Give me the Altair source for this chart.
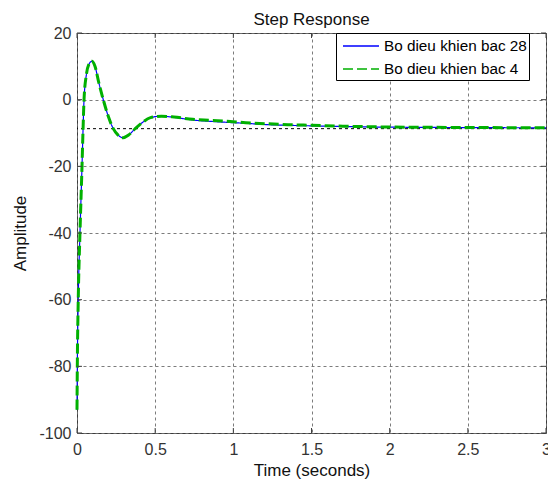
import altair as alt
import pandas as pd

# ---- data ----
series_names = ["Bo dieu khien bac 28", "Bo dieu khien bac 4"]

t_blue = [0.000, 0.002, 0.008, 0.019, 0.032, 0.038, 0.045, 0.060, 0.075, 0.095,
          0.115, 0.140, 0.168, 0.200, 0.232, 0.260, 0.295, 0.330, 0.370, 0.420,
          0.470, 0.540, 0.620, 0.740, 0.850, 0.960, 1.080, 1.200, 1.350, 1.500,
          1.700, 1.900, 2.100, 2.300, 2.500, 2.750, 3.000]
y_blue = [-93.0, -80.0, -60.0, -40.0, -20.0, -10.0, 0.0, 7.5, 10.5, 11.5,
          10.0, 5.0, 0.0, -5.0, -8.7, -10.5, -11.4, -10.6, -8.8, -6.8,
          -5.4, -4.95, -5.3, -6.1, -6.5, -6.8, -7.1, -7.45, -7.7, -7.85,
          -8.05, -8.2, -8.28, -8.33, -8.37, -8.42, -8.45]

t_green = [0.000, 0.002, 0.008, 0.019, 0.032, 0.038, 0.045, 0.060, 0.075, 0.095,
           0.115, 0.140, 0.168, 0.200, 0.232, 0.260, 0.295, 0.330, 0.370, 0.420,
           0.470, 0.540, 0.620, 0.740, 0.850, 0.960, 1.080, 1.200, 1.350, 1.500,
           1.700, 1.900, 2.100, 2.300, 2.500, 2.750, 3.000]
y_green = [-93.0, -80.0, -60.0, -40.0, -20.0, -10.0, 0.0, 7.5, 10.5, 11.5,
           10.0, 5.0, 0.0, -5.0, -8.7, -10.5, -11.4, -10.6, -8.8, -6.8,
           -5.4, -4.95, -5.2, -5.9, -6.2, -6.5, -6.9, -7.2, -7.5, -7.7,
           -7.95, -8.15, -8.25, -8.3, -8.35, -8.4, -8.45]

final_value = [-8.7]
x_ticks = [0, 0.5, 1, 1.5, 2, 2.5, 3]
y_ticks = [-100, -80, -60, -40, -20, 0, 20]

# ---- tables ----
df = pd.concat([
    pd.DataFrame({"t": t_blue, "y": y_blue, "series": series_names[0]}),
    pd.DataFrame({"t": t_green, "y": y_green, "series": series_names[1]}),
])
df_final = pd.DataFrame({"y": final_value})
df_xt = pd.DataFrame({"t": x_ticks})
df_yt = pd.DataFrame({"y": y_ticks})

W, H = 469, 400
FONT = "Liberation Sans"

xscale = alt.Scale(domain=[0, 3], nice=False, zero=False)
yscale = alt.Scale(domain=[-100, 20], nice=False, zero=False)

xaxis = alt.Axis(values=x_ticks, title="Time (seconds)", grid=True, ticks=False,
                 domain=False, labelPadding=8, titlePadding=5, labelFlush=False,
                 labelOverlap=False, labelExpr="'' + datum.value")
yaxis = alt.Axis(values=y_ticks, title="Amplitude", grid=True, ticks=False,
                 domain=False, labelPadding=6, titlePadding=9, labelFlush=False,
                 labelOverlap=False, labelExpr="'' + datum.value")

color = alt.Color("series:N", scale=alt.Scale(domain=series_names,
                                              range=["#0000ff", "#00b000"]),
                  legend=alt.Legend(title=None))
dash = alt.StrokeDash("series:N", scale=alt.Scale(domain=series_names,
                                                  range=[[1, 0], [10, 4]]),
                      legend=alt.Legend(title=None))

base = alt.Chart(df)

blue = base.transform_filter(alt.datum.series == series_names[0]).mark_line(
    strokeWidth=1.2, interpolate="monotone"
).encode(
    x=alt.X("t:Q", scale=xscale, axis=xaxis),
    y=alt.Y("y:Q", scale=yscale, axis=yaxis),
    color=color, strokeDash=dash, order="t:Q",
)

green = base.transform_filter(alt.datum.series == series_names[1]).mark_line(
    strokeWidth=3, interpolate="monotone"
).encode(
    x=alt.X("t:Q", scale=xscale),
    y=alt.Y("y:Q", scale=yscale),
    color=color, strokeDash=dash, order="t:Q",
)

final_line = alt.Chart(df_final).mark_rule(
    color="black", strokeDash=[3, 3], strokeWidth=1
).encode(y=alt.Y("y:Q", scale=yscale))

tick_color = "#404040"
xt_bottom = alt.Chart(df_xt).mark_rule(color=tick_color).encode(
    x=alt.X("t:Q", scale=xscale), y=alt.value(H), y2=alt.value(H - 5))
xt_top = alt.Chart(df_xt).mark_rule(color=tick_color).encode(
    x=alt.X("t:Q", scale=xscale), y=alt.value(0), y2=alt.value(5))
yt_left = alt.Chart(df_yt).mark_rule(color=tick_color).encode(
    y=alt.Y("y:Q", scale=yscale), x=alt.value(0), x2=alt.value(5))
yt_right = alt.Chart(df_yt).mark_rule(color=tick_color).encode(
    y=alt.Y("y:Q", scale=yscale), x=alt.value(W), x2=alt.value(W - 5))

chart = alt.layer(
    final_line, blue, green, xt_bottom, xt_top, yt_left, yt_right
).properties(
    width=W, height=H,
    title=alt.Title("Step Response", fontSize=17, font=FONT, fontWeight="normal",
                    color="#111111", offset=-4),
    autosize=alt.AutoSizeParams(type="none"),
    padding={"left": 77, "top": 33, "right": 2, "bottom": 51},
).configure_view(
    stroke="#3c3c3c", strokeWidth=1
).configure_axis(
    labelFont=FONT, labelFontSize=16, labelColor="#333333",
    titleFont=FONT, titleFontSize=17, titleColor="#111111", titleFontWeight="normal",
    gridColor="#6e6e6e", gridDash=[3, 3], gridWidth=1, gridOpacity=0.9,
).configure_legend(
    orient="none", legendX=259, legendY=0,
    fillColor="white", strokeColor="black", padding=2,
    symbolType="M-1.8,0H1.8", symbolSize=400, symbolStrokeWidth=1.5,
    symbolOffset=12,
    labelFont=FONT, labelFontSize=15.3, labelColor="black", labelLimit=400,
    rowPadding=3, labelOffset=12, cornerRadius=0,
)

chart.save("out.html", embed_options={"renderer": "svg", "actions": False})
